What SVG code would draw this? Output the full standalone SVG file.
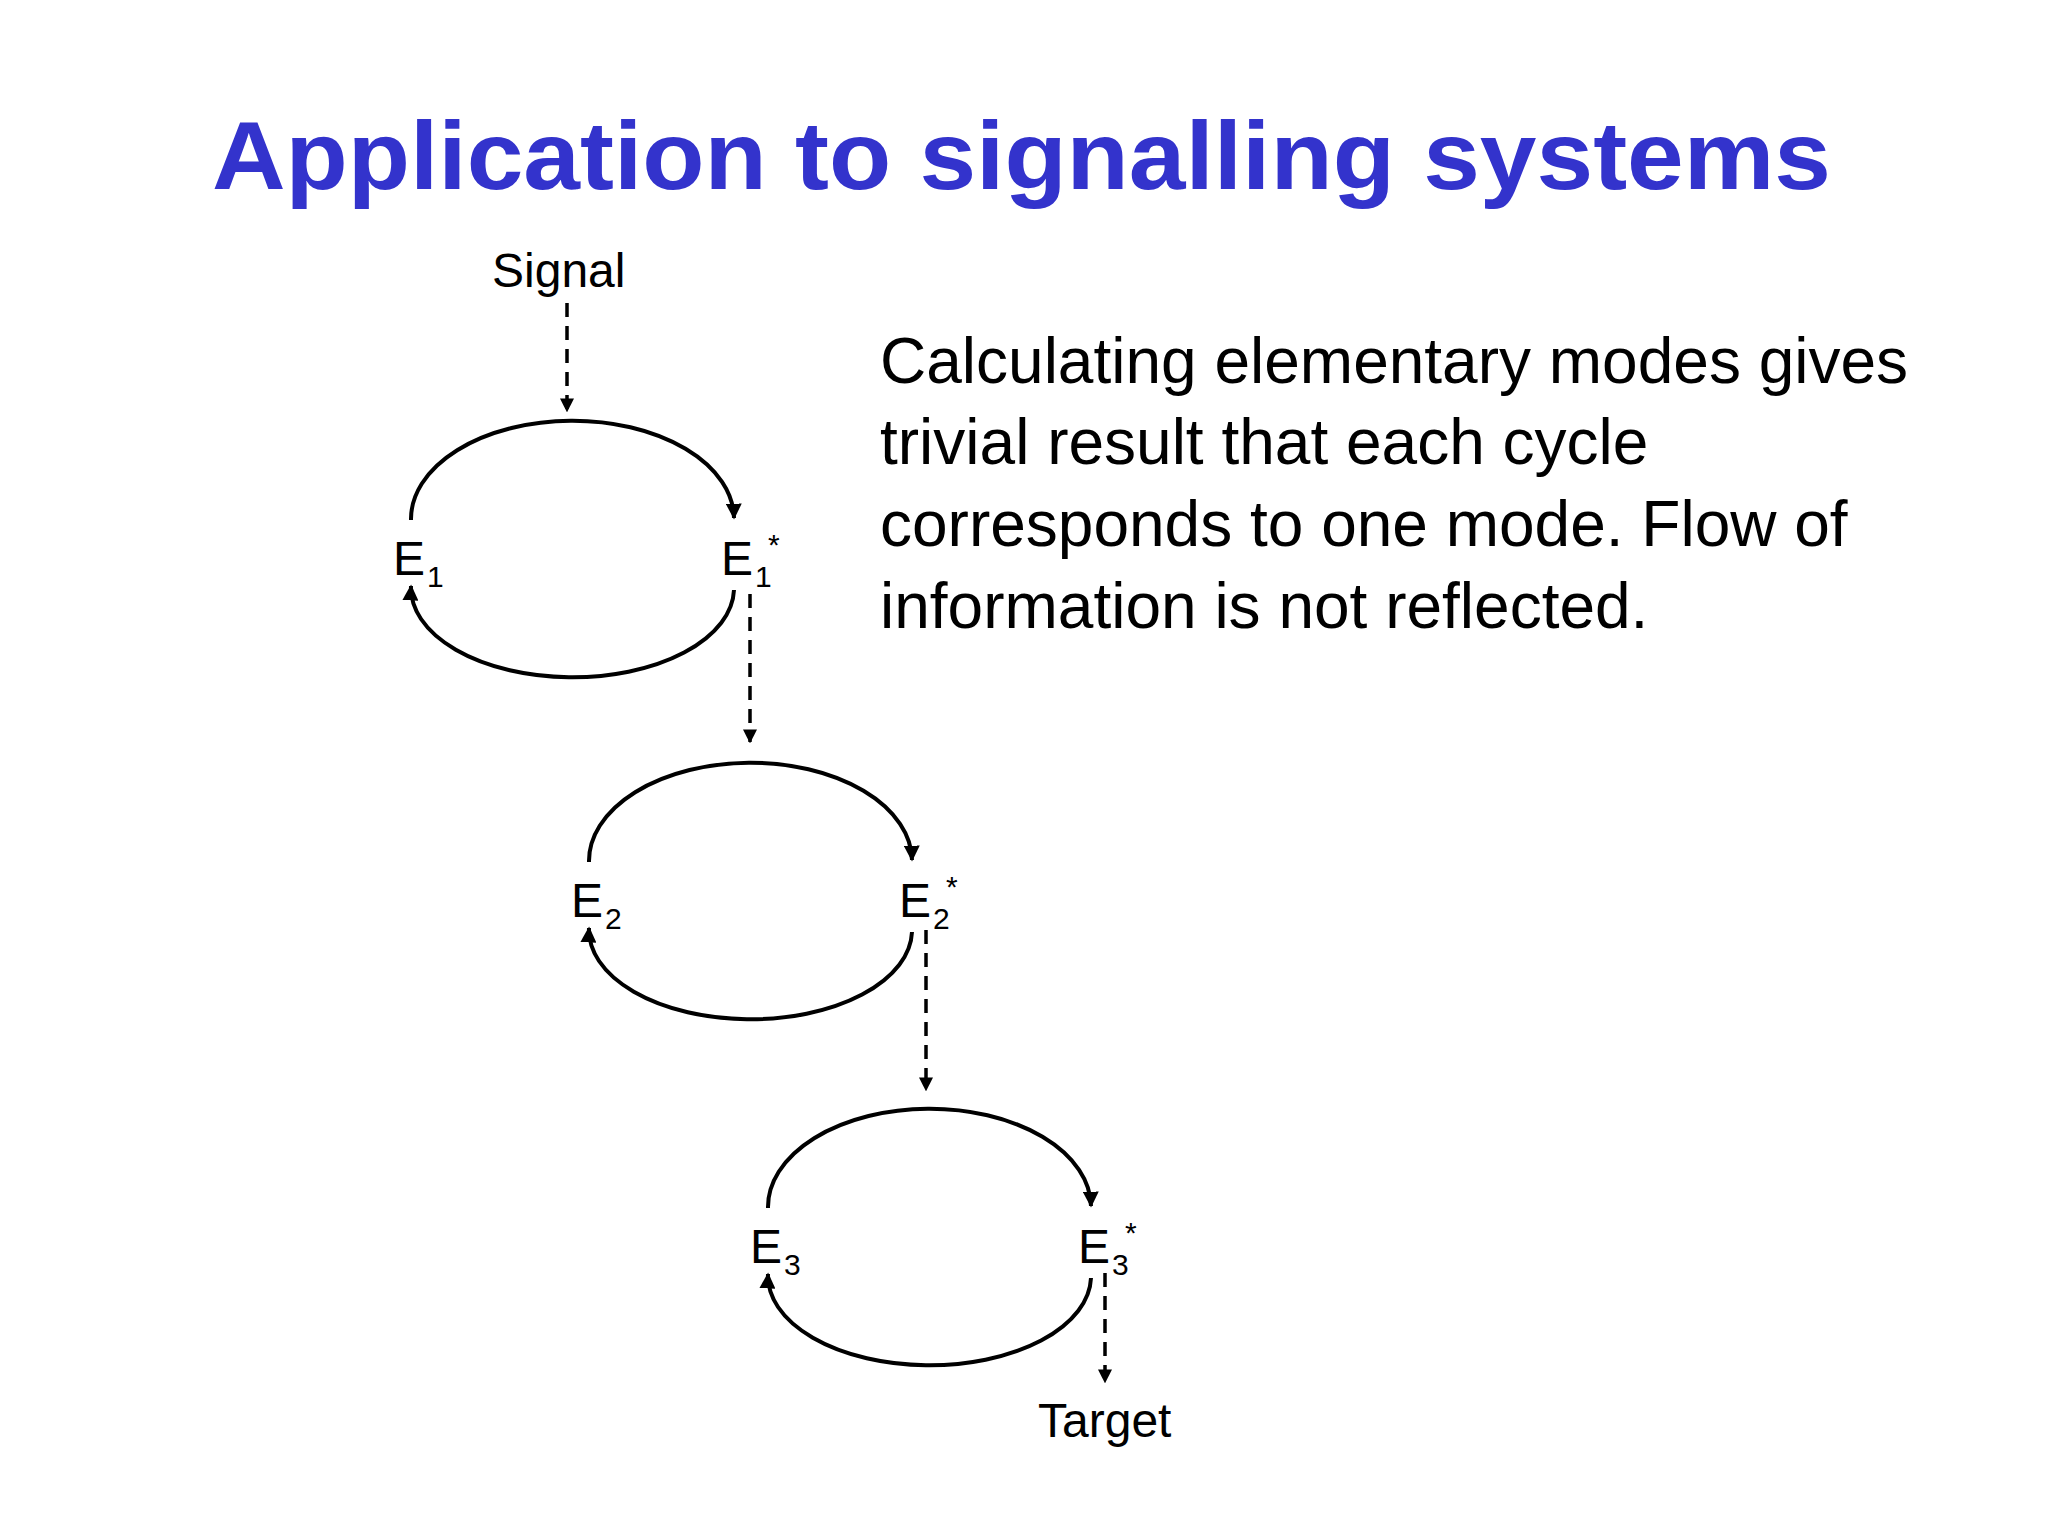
<svg xmlns="http://www.w3.org/2000/svg" width="2048" height="1536" viewBox="0 0 2048 1536">
<style>
text{font-family:"Liberation Sans",Arial,sans-serif;fill:#000}
.t{font-size:96px;font-weight:bold;fill:#3333cc}
.l{font-size:48px}
.s{font-size:30px}
.p{font-size:64px}
.arc{fill:none;stroke:#000;stroke-width:4}
.d{fill:none;stroke:#000;stroke-width:3.5;stroke-dasharray:14 9}
</style>
<defs>
<marker id="ah" viewBox="0 0 10 10" refX="9" refY="5" markerWidth="4" markerHeight="4" orient="auto" markerUnits="strokeWidth"><path d="M0,0L10,5L0,10z" fill="#000"/></marker>
</defs>
<rect width="2048" height="1536" fill="#fff"/>
<text class="t" x="212" y="189" textLength="1619" lengthAdjust="spacingAndGlyphs">Application to signalling systems</text>
<g id="text">
<text class="p" x="880" y="383">Calculating elementary modes gives</text>
<text class="p" x="880" y="464">trivial result that each cycle</text>
<text class="p" x="880" y="546">corresponds to one mode. Flow of</text>
<text class="p" x="880" y="628">information is not reflected.</text>
</g>
<g id="signal"><text class="l" x="492" y="287">Signal</text></g>
<g id="target"><text class="l" x="1038" y="1437">Target</text></g>
<g id="cycle1">
<text class="l" x="393" y="575">E</text><text class="s" x="427" y="587">1</text>
<text class="l" x="721" y="575">E</text><text class="s" x="755" y="587">1</text><text class="s" x="768" y="555">*</text>
</g>
<g id="cycle2" transform="translate(178,342)">
<text class="l" x="393" y="575">E</text><text class="s" x="427" y="587">2</text>
<text class="l" x="721" y="575">E</text><text class="s" x="755" y="587">2</text><text class="s" x="768" y="555">*</text>
</g>
<g id="cycle3" transform="translate(357,688)">
<text class="l" x="393" y="575">E</text><text class="s" x="427" y="587">3</text>
<text class="l" x="721" y="575">E</text><text class="s" x="755" y="587">3</text><text class="s" x="768" y="555">*</text>
</g>
<g id="connectors">
<g id="c1arcs">
<path class="arc" marker-end="url(#ah)" d="M411,520 A161 98 0 0 1 734,518"/>
<path class="arc" marker-end="url(#ah)" d="M734,590 A161 89 0 0 1 411,586"/>
</g>
<g transform="translate(178,342)">
<path class="arc" marker-end="url(#ah)" d="M411,520 A161 98 0 0 1 734,518"/>
<path class="arc" marker-end="url(#ah)" d="M734,590 A161 89 0 0 1 411,586"/>
</g>
<g transform="translate(357,688)">
<path class="arc" marker-end="url(#ah)" d="M411,520 A161 98 0 0 1 734,518"/>
<path class="arc" marker-end="url(#ah)" d="M734,590 A161 89 0 0 1 411,586"/>
</g>
<path class="d" marker-end="url(#ah)" d="M567,303V411"/>
<path class="d" marker-end="url(#ah)" d="M750,594V742"/>
<path class="d" marker-end="url(#ah)" d="M926,930V1090"/>
<path class="d" marker-end="url(#ah)" d="M1105,1273V1382"/>
</g>
</svg>
